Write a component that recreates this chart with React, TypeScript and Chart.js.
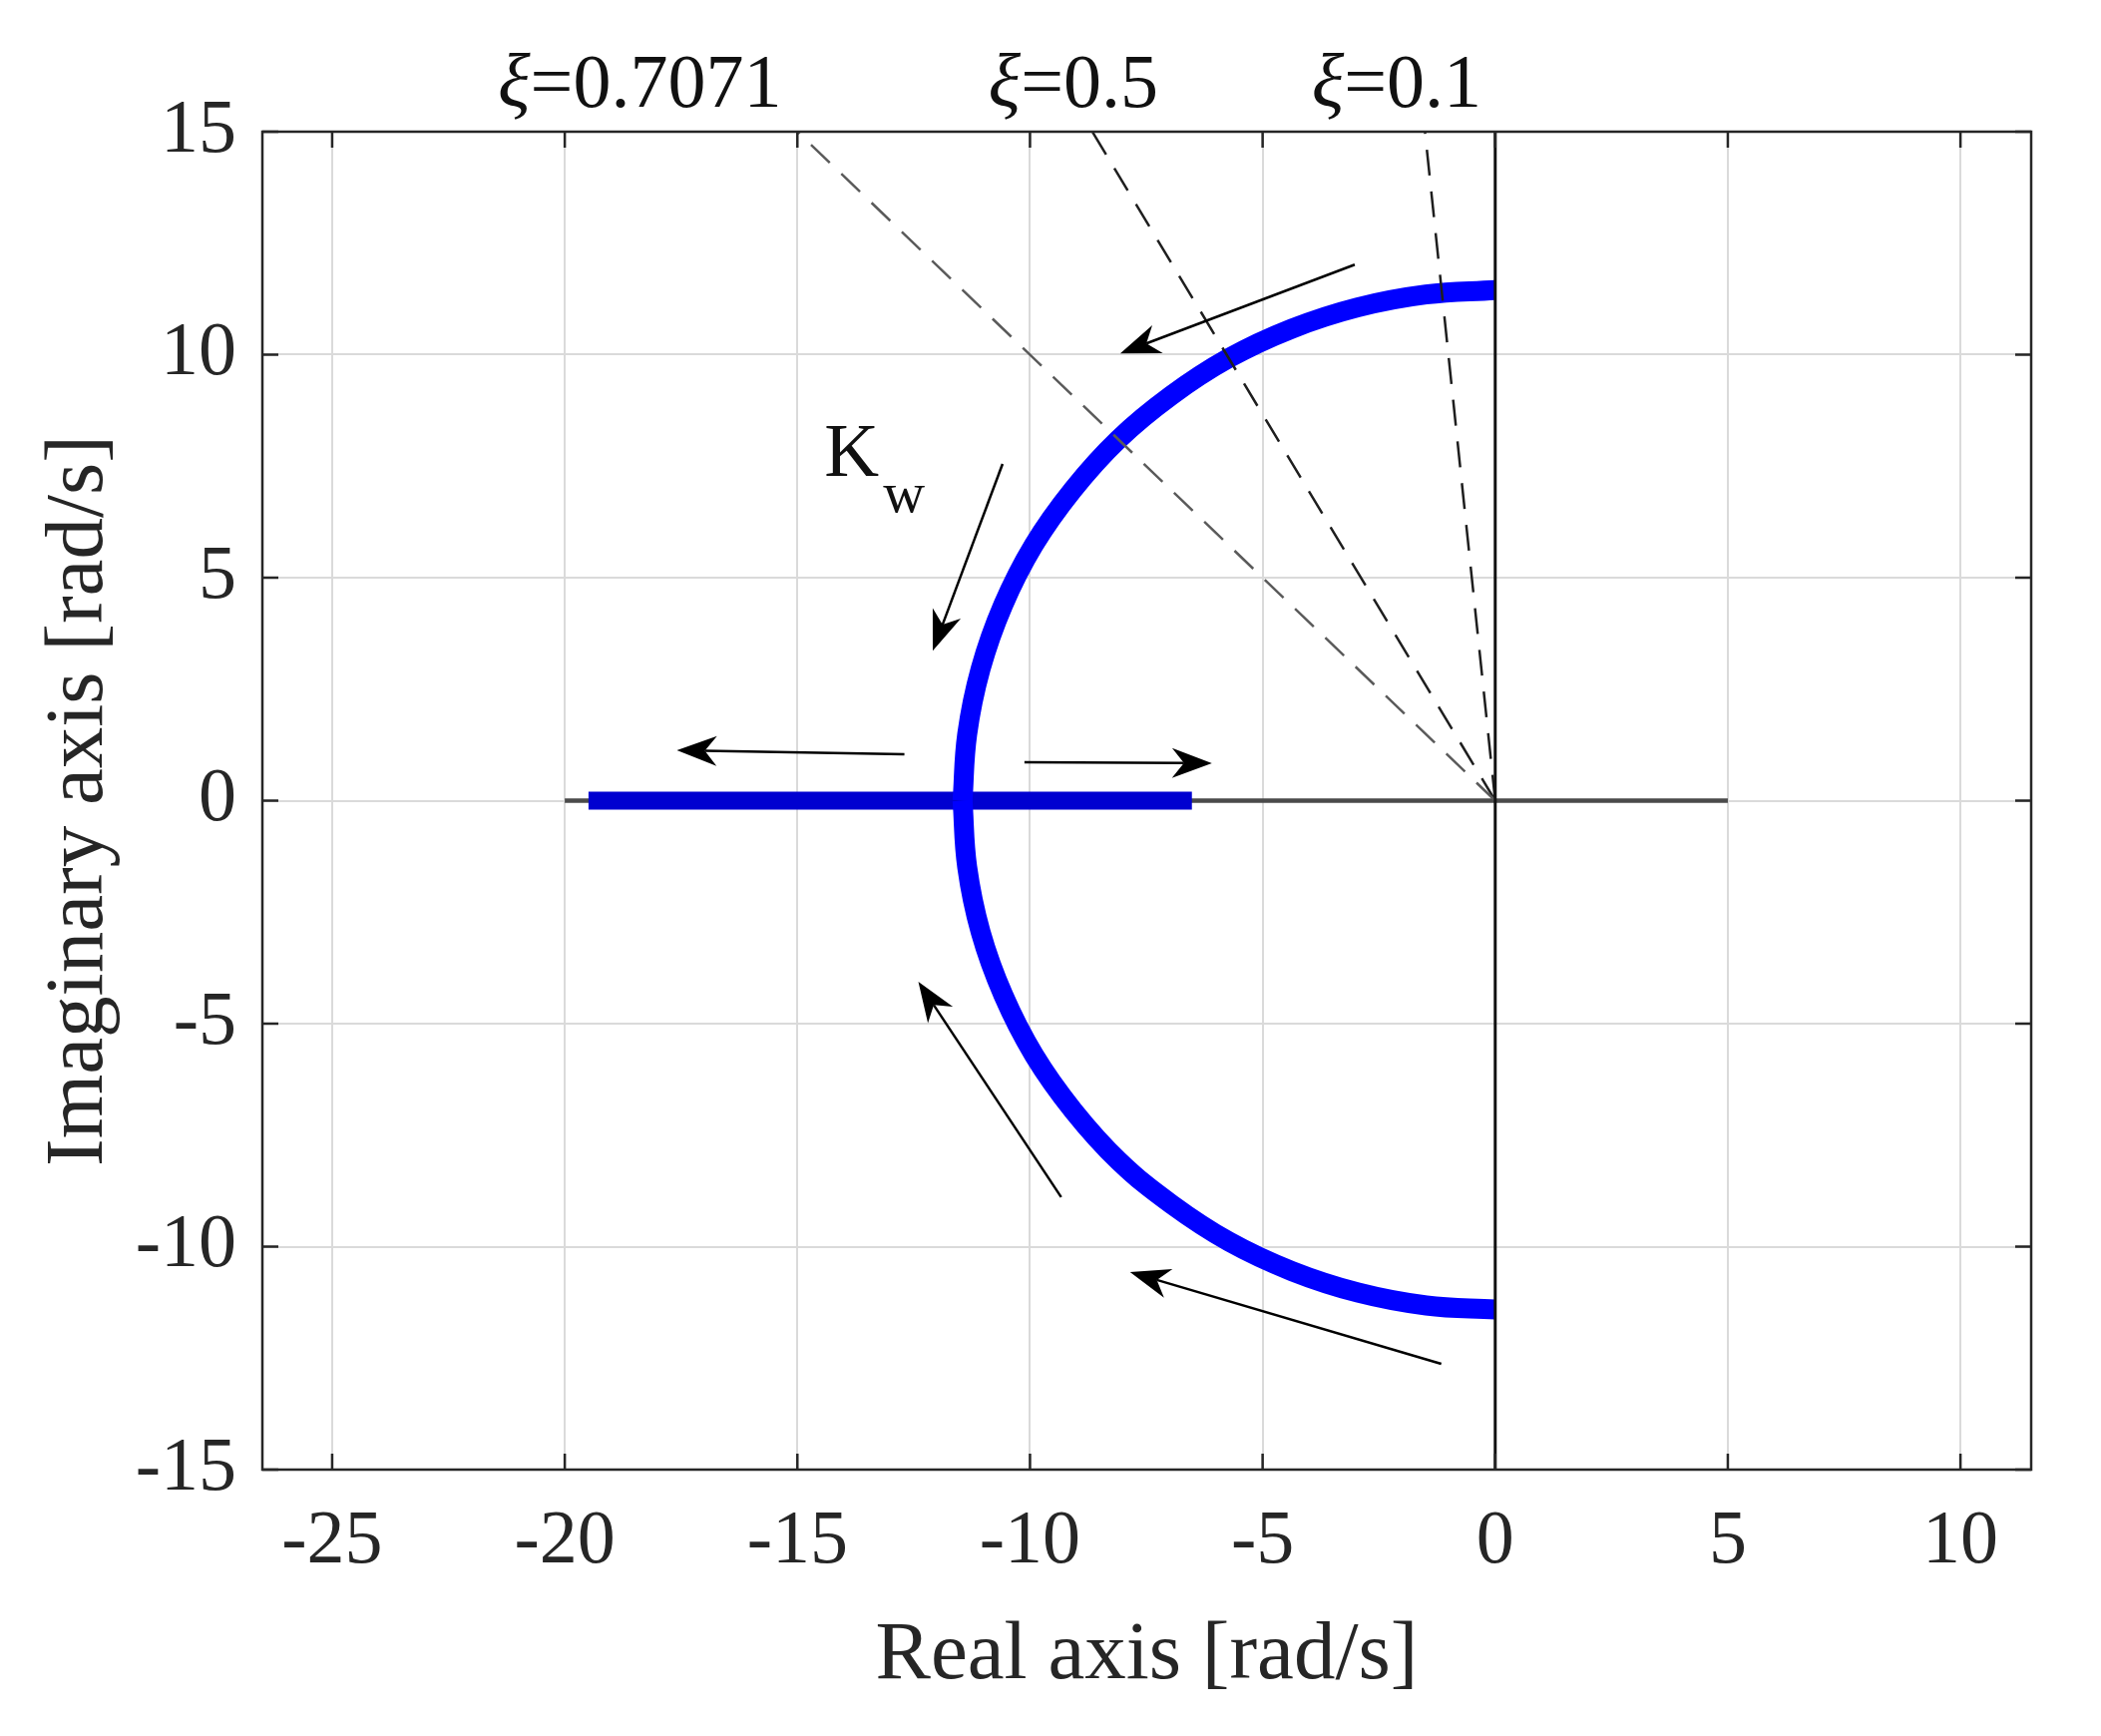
import React, { useEffect, useRef } from "react";
import { Chart, registerables } from "chart.js";

Chart.register(...registerables);

// ---- axes ----
const xMin = -26.5;
const xMax = 11.52;
const yMin = -15;
const yMax = 15;
const xTickValues = [-25, -20, -15, -10, -5, 0, 5, 10];
const yTickValues = [-15, -10, -5, 0, 5, 10, 15];
const xTitle = "Real axis [rad/s]";
const yTitle = "Imaginary axis [rad/s]";

// ---- root locus branches ----
const upperArcX = [0, -1.49, -2.96, -4.38, -5.73, -6.97, -8.1, -9.08, -9.92, -10.58, -11.06, -11.35, -11.45];
const upperArcY = [11.45, 11.35, 11.06, 10.58, 9.92, 9.08, 8.1, 6.97, 5.73, 4.38, 2.96, 1.49, 0];
const lowerArcX = [-11.45, -11.35, -11.06, -10.57, -9.91, -9.07, -8.09, -6.96, -5.72, -4.37, -2.95, -1.48, 0];
const lowerArcY = [0, -1.49, -2.95, -4.37, -5.71, -6.95, -8.08, -9.05, -9.89, -10.55, -11.03, -11.32, -11.41];
const realBranchX = [-19.49, -6.52];
const realBranchY = [0, 0];

// ---- reference lines ----
const realAxisX = [-20, 5];
const realAxisY = [0, 0];
const imagAxisX = [0, 0];
const imagAxisY = [-15, 15];

// ---- damping ratio lines ----
const dampingSymbol = "ξ";
const dampingValues = ["=0.7071", "=0.5", "=0.1"];
const dampingEndX = [-15, -8.66, -1.51];
const dampingEndY = [15, 15, 15];
const dampingColors = ["#5a5a5a", "#1e1e1e", "#1e1e1e"];
const dampingLabelX = [-18.39, -9.07, -2.12];
const dampingLabelY = [15.55, 15.55, 15.55];

// ---- annotation arrows ----
const arrowStartX = [-3.02, -10.59, -12.7, -10.12, -9.33, -1.16];
const arrowStartY = [12.02, 7.55, 1.04, 0.86, -8.89, -12.63];
const arrowEndX = [-8.06, -12.09, -17.59, -6.09, -12.4, -7.85];
const arrowEndY = [10.03, 3.36, 1.13, 0.84, -4.06, -10.57];

// ---- gain label ----
const gainLabel = "K";
const gainSub = "w";
const gainLabelX = -14.42;
const gainLabelY = 7.29;

const FONT = '"Liberation Serif", "Times New Roman", serif';
const TEXT = "#262626";
const BLUE = "#0000ff";

const pts = (xs: number[], ys: number[]) => xs.map((x, i) => ({ x, y: ys[i] }));

function drawArrow(ctx: CanvasRenderingContext2D, x1: number, y1: number, x2: number, y2: number) {
  const ang = Math.atan2(y2 - y1, x2 - x1);
  const c = Math.cos(ang);
  const s = Math.sin(ang);
  const L = 40;
  const W = 15;
  const N = 28;
  ctx.beginPath();
  ctx.moveTo(x1, y1);
  ctx.lineTo(x2 - c * N, y2 - s * N);
  ctx.stroke();
  const bx = x2 - c * L;
  const by = y2 - s * L;
  const nx = -s;
  const ny = c;
  ctx.beginPath();
  ctx.moveTo(x2, y2);
  ctx.lineTo(bx + nx * W, by + ny * W);
  ctx.lineTo(x2 - c * N, y2 - s * N);
  ctx.lineTo(bx - nx * W, by - ny * W);
  ctx.closePath();
  ctx.fill();
}

const decorPlugin = {
  id: "decor",
  afterDraw(chart: any) {
    const { ctx, chartArea } = chart;
    const xs = chart.scales.x;
    const ys = chart.scales.y;
    const { left, right, top, bottom } = chartArea;
    ctx.save();
    // box
    ctx.strokeStyle = TEXT;
    ctx.lineWidth = 2.5;
    ctx.strokeRect(left, top, right - left, bottom - top);
    // inward ticks
    const tl = 16;
    ctx.beginPath();
    xTickValues.forEach((v) => {
      const px = xs.getPixelForValue(v);
      ctx.moveTo(px, bottom);
      ctx.lineTo(px, bottom - tl);
      ctx.moveTo(px, top);
      ctx.lineTo(px, top + tl);
    });
    yTickValues.forEach((v) => {
      const py = ys.getPixelForValue(v);
      ctx.moveTo(left, py);
      ctx.lineTo(left + tl, py);
      ctx.moveTo(right, py);
      ctx.lineTo(right - tl, py);
    });
    ctx.stroke();

    // arrows
    ctx.strokeStyle = "#000";
    ctx.fillStyle = "#000";
    ctx.lineWidth = 2.5;
    arrowStartX.forEach((_, i) => {
      drawArrow(
        ctx,
        xs.getPixelForValue(arrowStartX[i]),
        ys.getPixelForValue(arrowStartY[i]),
        xs.getPixelForValue(arrowEndX[i]),
        ys.getPixelForValue(arrowEndY[i])
      );
    });

    // damping labels: italic xi + regular value, centred as a whole
    ctx.fillStyle = "#111";
    ctx.textAlign = "left";
    ctx.textBaseline = "alphabetic";
    dampingValues.forEach((t, i) => {
      ctx.font = `italic 76px ${FONT}`;
      const w1 = ctx.measureText(dampingSymbol).width;
      ctx.font = `76px ${FONT}`;
      const w2 = ctx.measureText(t).width;
      const cx = xs.getPixelForValue(dampingLabelX[i]);
      const by = ys.getPixelForValue(dampingLabelY[i]);
      const x0 = cx - (w1 + w2) / 2;
      ctx.font = `italic 76px ${FONT}`;
      ctx.fillText(dampingSymbol, x0, by);
      ctx.font = `76px ${FONT}`;
      ctx.fillText(t, x0 + w1, by);
    });

    // gain label K_w
    const kx = xs.getPixelForValue(gainLabelX);
    const ky = ys.getPixelForValue(gainLabelY);
    ctx.font = `76px ${FONT}`;
    ctx.fillText(gainLabel, kx, ky);
    const kw = ctx.measureText(gainLabel).width;
    ctx.font = `58px ${FONT}`;
    ctx.fillText(gainSub, kx + kw + 4, ky + 36);
    ctx.restore();
  },
};

export default function App() {
  const ref = useRef<HTMLCanvasElement>(null);
  useEffect(() => {
    const lineDs = (data: any[], color: string, width: number, extra: any = {}) => ({
      data,
      showLine: true,
      borderColor: color,
      borderWidth: width,
      pointRadius: 0,
      fill: false,
      ...extra,
    });
    const blueExtra = {
      tension: 0.4,
      cubicInterpolationMode: "default",
      pointRadius: 0,
      borderCapStyle: "butt",
      borderJoinStyle: "round",
    };
    const datasets: any[] = [
      lineDs(pts(imagAxisX, imagAxisY), "#111111", 3),
      ...dampingEndX.map((ex, i) =>
        lineDs(pts([0, ex], [0, dampingEndY[i]]), dampingColors[i], 2.5, { borderDash: [26, 16] })
      ),
      lineDs(pts(upperArcX, upperArcY), BLUE, 20, blueExtra),
      lineDs(pts(lowerArcX, lowerArcY), BLUE, 20, blueExtra),
      lineDs(pts(realBranchX, realBranchY), "#0000d0", 18, { ...blueExtra, tension: 0 }),
      lineDs(pts(realAxisX, realAxisY), "#4a4a4a", 4.5),
    ];

    const chart = new Chart(ref.current as HTMLCanvasElement, {
      type: "scatter",
      data: { datasets },
      options: {
        animation: false,
        responsive: false,
        devicePixelRatio: 1,
        layout: { padding: { top: 132, right: 70, left: 0, bottom: 0 } },
        plugins: { legend: { display: false }, tooltip: { enabled: false } },
        scales: {
          x: {
            type: "linear",
            min: xMin,
            max: xMax,
            afterBuildTicks: (s: any) => {
              s.ticks = xTickValues.map((v) => ({ value: v }));
            },
            afterFit: (s: any) => {
              s.height = 267;
            },
            grid: { color: "#dadada", lineWidth: 2, drawTicks: false },
            border: { display: false },
            ticks: {
              padding: 27,
              color: TEXT,
              font: { family: FONT, size: 76 },
              maxRotation: 0,
              autoSkip: false,
              callback: (v: any) => String(v),
            },
            title: {
              display: true,
              text: xTitle,
              color: TEXT,
              font: { family: FONT, size: 83 },
              padding: { top: 0, bottom: 30 },
            },
          },
          y: {
            type: "linear",
            min: yMin,
            max: yMax,
            afterBuildTicks: (s: any) => {
              s.ticks = yTickValues.map((v) => ({ value: v }));
            },
            afterFit: (s: any) => {
              s.width = 263;
            },
            grid: { color: "#dadada", lineWidth: 2, drawTicks: false },
            border: { display: false },
            ticks: {
              padding: 26,
              color: TEXT,
              font: { family: FONT, size: 76 },
              autoSkip: false,
              callback: (v: any) => String(v),
            },
            title: {
              display: true,
              text: yTitle,
              color: TEXT,
              font: { family: FONT, size: 83 },
              padding: { top: 30, bottom: 0 },
            },
          },
        },
      },
      plugins: [decorPlugin],
    } as any);
    return () => chart.destroy();
  }, []);

  return (
    <div style={{ position: "fixed", left: 0, top: 0, width: 2106, height: 1740, background: "#fff" }}>
      <canvas ref={ref} width={2106} height={1740} style={{ display: "block", width: 2106, height: 1740 }} />
    </div>
  );
}
